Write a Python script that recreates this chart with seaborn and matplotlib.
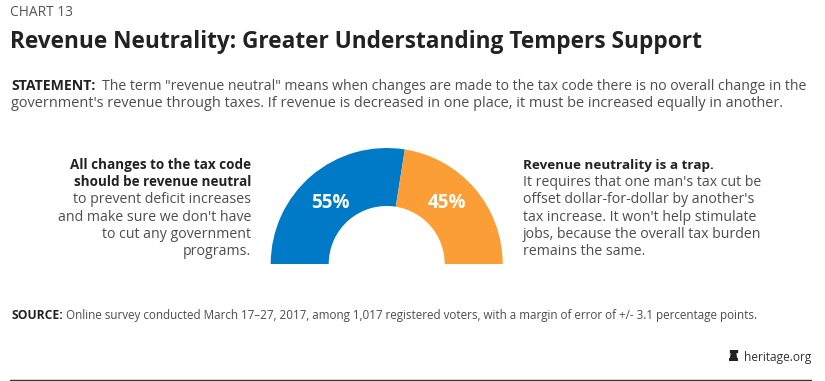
import matplotlib
matplotlib.use('Agg')
import matplotlib.pyplot as plt
import seaborn as sns

# data
labels = ['55%', '45%']
shares = [55, 45]
colors = ['#0079C6', '#FB9E35']

left_bold = ['All changes to the tax code', 'should be revenue neutral']
left_text = ['to prevent deficit increases', "and make sure we don't have",
             'to cut any government', 'programs.']
right_bold = ['Revenue neutrality is a trap.']
right_text = ["It requires that one man's tax cut be", "offset dollar-for-dollar by another's",
              "tax increase. It won't help stimulate", 'jobs, because the overall tax burden',
              'remains the same.']

sns.set_theme(style='white')
plt.rcParams['font.family'] = ['Open Sans', 'DejaVu Sans']

W, H = 825, 381
fig = plt.figure(figsize=(W / 100, H / 100), dpi=100, facecolor='white')

# half donut: an invisible wedge fills the lower half
cx, base, r = 386.7, 264, 116
ax = fig.add_axes([(cx - r) / W, (H - base - r) / H, 2 * r / W, 2 * r / H])
wedges, _ = ax.pie(shares + [sum(shares)], colors=colors + ['none'], startangle=180,
                   counterclock=False, radius=1, wedgeprops=dict(width=0.5, linewidth=0))
ax.set_xlim(-1, 1)
ax.set_ylim(-1, 1)
ax.axis('off')
ax.text(-0.489, 0.526, labels[0], color='white', fontsize=13.5, fontweight='bold', ha='center', va='center')
ax.text(0.517, 0.526, labels[1], color='white', fontsize=13.5, fontweight='bold', ha='center', va='center')

dark = '#222222'
grey = '#4d4d4d'


def put(x, y, s, size, color=grey, weight='normal', ha='left'):
    fig.text(x / W, 1 - y / H, s, fontsize=size, color=color, fontweight=weight, ha=ha, va='baseline')


put(10, 15.5, 'CHART 13', 9.9, '#555555')
put(10, 48, 'Revenue Neutrality: Greater Understanding Tempers Support', 16.26, dark, 'bold')

put(11, 90, 'STATEMENT:', 10.2, dark, 'bold')
put(102, 90, 'The term "revenue neutral" means when changes are made to the tax code there is no overall change in the', 10.1)
put(11, 107, "government's revenue through taxes. If revenue is decreased in one place, it must be increased equally in another.", 10.45)

# side texts share one row grid
row0, step = 168.5, 17.35
for i, s in enumerate(left_bold):
    put(251, row0 + i * step, s, 9.75, dark, 'bold', ha='right')
for i, s in enumerate(left_text):
    put(251, row0 + (i + 2) * step, s, 10.2, ha='right')

put(523, row0, right_bold[0], 9.7, dark, 'bold')
for i, s in enumerate(right_text):
    put(523, row0 + (i + 1) * step, s, 10.2)

put(11, 319, 'SOURCE:', 8.75, dark, 'bold')
put(66, 319, 'Online survey conducted March 17\u201327, 2017, among 1,017 registered voters, with a margin of error of +/- 3.1 percentage points.', 8.4)

put(811, 361, 'heritage.org', 8.6, '#333333', ha='right')

# small bell mark next to the site name
bell = fig.add_axes([729 / W, (H - 361) / H, 9 / W, 11 / H])
bell.fill([0, 1, 1, 0.82, 0.72, 0.28, 0.18, 0, 0], [0, 0, 0.18, 0.25, 0.85, 0.85, 0.25, 0.18, 0], color='#222222')
bell.fill_between([0.08, 0.92], 0.82, 1, color='#222222')
bell.set_xlim(0, 1)
bell.set_ylim(0, 1)
bell.axis('off')

# bottom rule
fig.add_artist(plt.Line2D([10 / W, 811 / W], [1 - 380 / H, 1 - 380 / H], color='#333333', linewidth=1))

fig.savefig('out.png', dpi=100)
